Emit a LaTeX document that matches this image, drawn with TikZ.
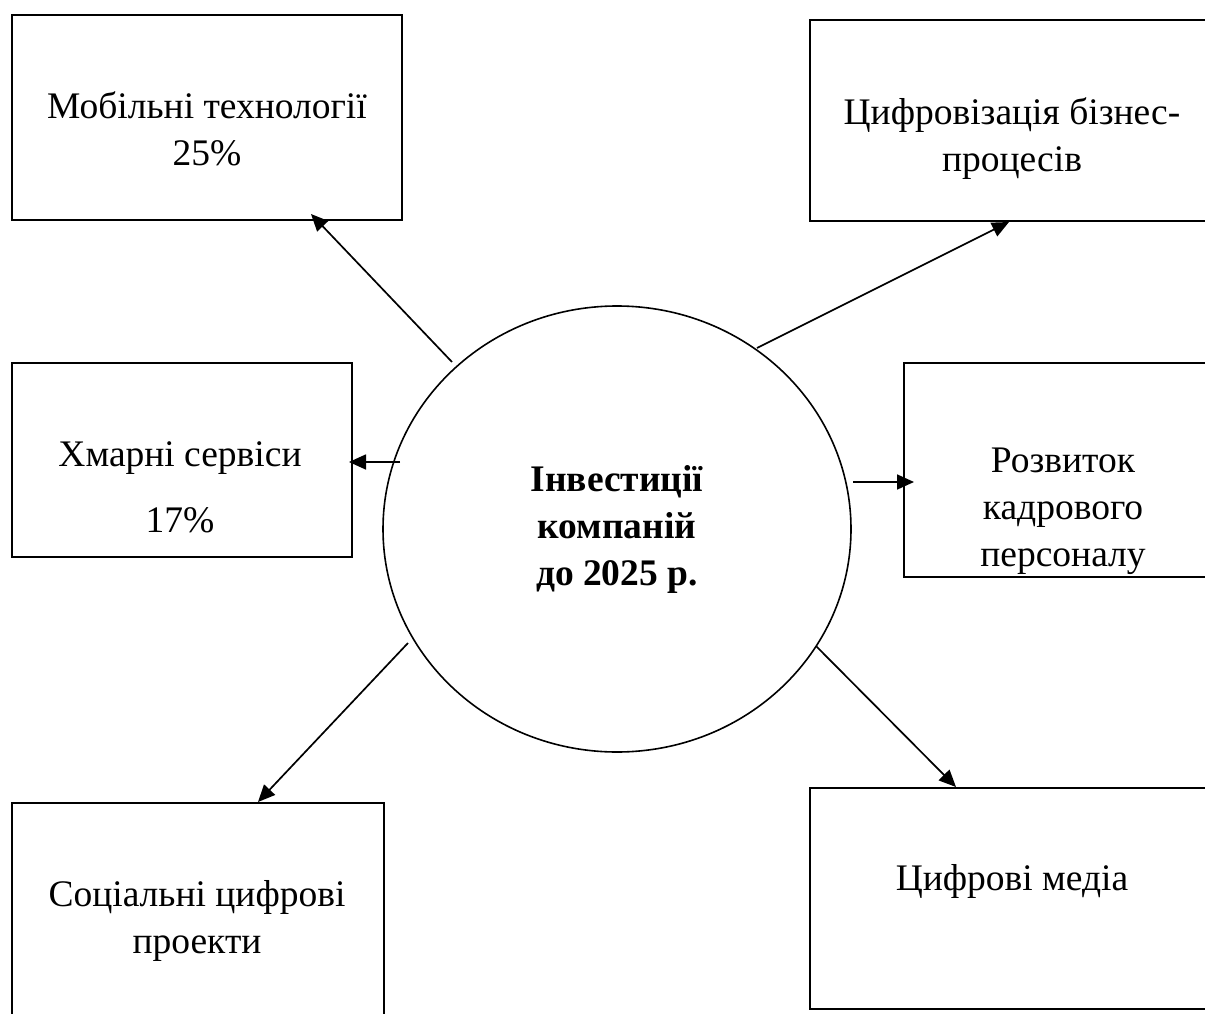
\documentclass[tikz,border=0pt]{standalone}
\usepackage{fontspec}
\setmainfont{Liberation Serif}
\usetikzlibrary{shapes.geometric,arrows.meta}

\tikzset{
  box/.style={draw, line width=2pt, rectangle, inner sep=0pt},
  lbl/.style={align=center, inner sep=0pt,
    font=\fontsize{37.5}{47}\selectfont},
  hub/.style={draw, line width=1.6pt, ellipse, inner sep=0pt,
    align=center, font=\fontsize{37.5}{47}\selectfont\bfseries},
  link/.style={line width=1.7pt, -{Triangle[length=17pt,width=15pt]}}
}

\begin{document}
\begin{tikzpicture}[x=1pt, y=-1pt]
  \path[use as bounding box] (0,0) rectangle (1205,1014);
  \clip (0,0) rectangle (1205,1014);

  % central ellipse
  \node[hub, minimum width=468pt, minimum height=446pt] (hub) at (617,529)
    {\strut Інвестиції\\\strut компаній\\\strut до 2025 р.};

  % surrounding boxes
  \node[box, minimum width=390pt, minimum height=205pt] (mob)   at (207,117.5) {};
  \node[box, minimum width=420pt, minimum height=201pt] (dig)   at (1020,120.5) {};
  \node[box, minimum width=340pt, minimum height=194pt] (cloud) at (182,460) {};
  \node[box, minimum width=326pt, minimum height=214pt] (hr)    at (1067,470) {};
  \node[box, minimum width=372pt, minimum height=237pt] (soc)   at (198,921.5) {};
  \node[box, minimum width=420pt, minimum height=221pt] (media) at (1020,898.5) {};

  % box captions
  \node[lbl] (mobt)   at (207,133)   {\strut Мобільні технології\\\strut 25\%};
  \node[lbl] (digt)   at (1012,139)  {\strut Цифровізація бізнес-\\\strut процесів};
  \node[lbl] (cloudt) at (180,490.5) {\strut Хмарні сервіси\\[19pt]\strut 17\%};
  \node[lbl] (hrt)    at (1063,510) {\strut Розвиток\\\strut кадрового\\\strut персоналу};
  \node[lbl] (soct)   at (197,920.5) {\strut Соціальні цифрові\\\strut проекти};
  \node[lbl] (mediat) at (1012,881.5) {\strut Цифрові медіа};

  % free ends of the connectors near the ellipse
  \coordinate (s1) at (452,362);
  \coordinate (s2) at (757,348);
  \coordinate (s3) at (400,462);
  \coordinate (s4) at (853,482);
  \coordinate (s5) at (816,646);
  \coordinate (s6) at (408,643);

  % connectors
  \draw[link] (s1) -- ([xshift=300pt,yshift=7pt]mob.south west);
  \draw[link] (s2) -- ([xshift=200pt]dig.south west);
  \draw[link] (s3) -- ([xshift=-4pt,yshift=-2pt]cloud.east);
  \draw[link] (s4) -- ([xshift=11pt,yshift=-12pt]hr.west);
  \draw[link] (s5) -- ([xshift=147pt]media.north west);
  \draw[link] (s6) -- ([xshift=247pt]soc.north west);
\end{tikzpicture}
\end{document}
